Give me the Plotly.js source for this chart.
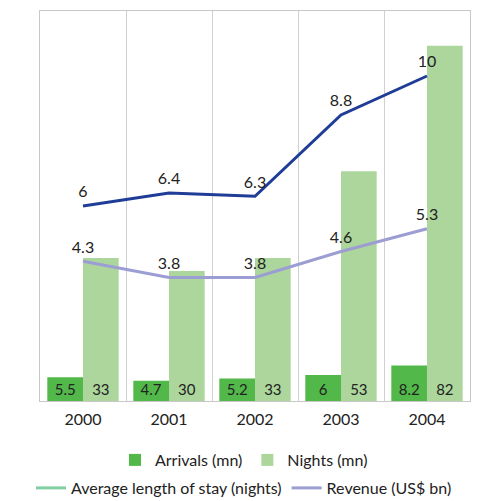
<!DOCTYPE html>
<html>
<head>
<meta charset="utf-8">
<script src="https://cdn.plot.ly/plotly-3.0.1.min.js"></script>
<style>html,body{margin:0;padding:0;background:#fff;}#chart{width:488px;height:501px;}</style>
</head>
<body>
<div id="chart"></div>
<script>
const years = ['2000', '2001', '2002', '2003', '2004'];
const arrivals = [5.5, 4.7, 5.2, 6, 8.2];
const nights = [33, 30, 33, 53, 82];
const avgStay = [6, 6.4, 6.3, 8.8, 10];
const revenue = [4.3, 3.8, 3.8, 4.6, 5.3];
const legendBlank = [null, null, null, null, null];

const fontFam = 'Lato, "Open Sans", sans-serif';
const txtCol = '#222';

const traces = [
  {
    type: 'bar', name: 'Arrivals (mn)', x: years, y: arrivals,
    marker: {color: '#52b84a'},
    text: arrivals.map(String), textposition: 'inside', insidetextanchor: 'start',
    constraintext: 'none', textangle: 0,
    textfont: {family: fontFam, size: 15, color: txtCol},
    legend: 'legend', showlegend: true, hoverinfo: 'skip'
  },
  {
    type: 'bar', name: 'Nights (mn)', x: years, y: nights,
    marker: {color: '#acd69c'},
    text: nights.map(String), textposition: 'inside', insidetextanchor: 'start',
    constraintext: 'none', textangle: 0,
    textfont: {family: fontFam, size: 15, color: txtCol},
    legend: 'legend', showlegend: true, hoverinfo: 'skip'
  },
  {
    type: 'scatter', mode: 'lines+markers+text', name: 'Average length of stay (nights)',
    x: years, y: avgStay, yaxis: 'y2',
    line: {color: '#1f3d97', width: 3},
    marker: {size: 6, opacity: 0, color: '#1f3d97'},
    text: avgStay.map(String), textposition: 'top center',
    textfont: {family: fontFam, size: 16, color: txtCol},
    showlegend: false, hoverinfo: 'skip', cliponaxis: false
  },
  {
    type: 'scatter', mode: 'lines+markers+text', name: 'Revenue (US$ bn)',
    x: years, y: revenue, yaxis: 'y2',
    line: {color: '#9b9dd3', width: 3},
    marker: {size: 6, opacity: 0, color: '#9b9dd3'},
    text: revenue.map(String), textposition: 'top center',
    textfont: {family: fontFam, size: 16, color: txtCol},
    showlegend: false, hoverinfo: 'skip', cliponaxis: false
  },
  {
    type: 'scatter', mode: 'lines', name: 'Average length of stay (nights)',
    x: years, y: legendBlank, yaxis: 'y2', line: {color: '#80cfa2', width: 3},
    legend: 'legend2', showlegend: true, hoverinfo: 'skip'
  },
  {
    type: 'scatter', mode: 'lines', name: 'Revenue (US$ bn)',
    x: years, y: legendBlank, yaxis: 'y2', line: {color: '#9b9dd3', width: 3},
    legend: 'legend2', showlegend: true, hoverinfo: 'skip'
  }
];

const layout = {
  width: 488, height: 501,
  margin: {l: 40, r: 18, t: 11, b: 100},
  paper_bgcolor: '#fff', plot_bgcolor: '#fff',
  font: {family: fontFam, size: 16, color: txtCol},
  showlegend: true,
  barmode: 'group', bargap: 0.17, bargroupgap: 0,
  hovermode: false,
  xaxis: {
    type: 'category', tickson: 'boundaries',
    showgrid: true, gridcolor: '#d0d0d0', gridwidth: 1,
    showline: true, linecolor: '#c8c8c8', mirror: true,
    ticks: '', ticklabelstandoff: 4,
    tickfont: {family: fontFam, size: 16, color: txtCol},
    fixedrange: true
  },
  yaxis: {
    range: [0, 90], showgrid: false, zeroline: false, showticklabels: false,
    showline: true, linecolor: '#c8c8c8', mirror: true, fixedrange: true
  },
  yaxis2: {
    range: [0, 12], overlaying: 'y', side: 'right', showgrid: false,
    zeroline: false, showticklabels: false, showline: false, fixedrange: true
  },
  legend: {
    orientation: 'h', xref: 'container', yref: 'container',
    x: 0.5, xanchor: 'center', y: 1 - 460 / 501, yanchor: 'middle',
    font: {family: fontFam, size: 16, color: txtCol}, bgcolor: 'rgba(0,0,0,0)'
  },
  legend2: {
    orientation: 'h', xref: 'container', yref: 'container',
    x: 0.5, xanchor: 'center', y: 1 - 488 / 501, yanchor: 'middle',
    font: {family: fontFam, size: 16, color: txtCol}, bgcolor: 'rgba(0,0,0,0)'
  }
};

Plotly.newPlot('chart', traces, layout, {staticPlot: true, displayModeBar: false});
</script>
</body>
</html>
